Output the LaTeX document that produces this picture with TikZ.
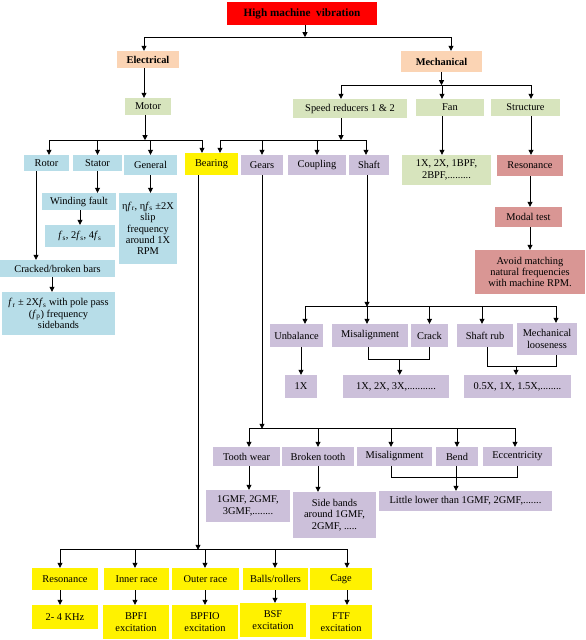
\documentclass[tikz,border=0pt]{standalone}
\usepackage{fontspec}
\setmainfont{Liberation Serif}
\usepackage{xcolor}
\usetikzlibrary{arrows.meta,positioning,calc}
\definecolor{peach}{HTML}{FBD4B4}
\definecolor{sage}{HTML}{D7E4BD}
\definecolor{skyblue}{HTML}{B7DDE8}
\definecolor{lilac}{HTML}{CCC0DA}
\definecolor{rosy}{HTML}{D99694}
\tikzset{
  box/.style={inner xsep=0.5pt, inner ysep=1pt, align=center, font=\fontsize{10.4}{11.4}\selectfont},
  peachbox/.style={box, fill=peach, font=\fontsize{10.4}{11.4}\selectfont\bfseries},
  sagebox/.style={box, fill=sage},
  skybox/.style={box, fill=skyblue},
  yelbox/.style={box, fill=yellow},
  lilacbox/.style={box, fill=lilac},
  rosebox/.style={box, fill=rosy},
  arr/.style={-{Triangle[length=5pt,width=5pt]}, line width=0.8pt},
  ln/.style={line width=0.8pt}
}
\newcommand{\fsub}[1]{\textit{f}\textsubscript{#1}}

\begin{document}
\begin{tikzpicture}[x=1pt,y=-1pt]
\useasboundingbox (0,0) rectangle (586,640);
\node[box, fill=red, font=\fontsize{11.2}{13}\selectfont\bfseries, minimum width=150, minimum height=23] (hmv) at (302,13.5) {High machine\ \ vibration};
\node[peachbox, minimum width=62, minimum height=17] (elec) at (148,59.5) {Electrical};
\node[peachbox, minimum width=81, minimum height=21] (mech) at (441.5,61.5) {Mechanical};
\node[sagebox, minimum width=46, minimum height=17] (motor) at (148,106.5) {Motor};
\node[sagebox, minimum width=114, minimum height=19] (spred) at (350,108.5) {Speed reducers 1 \& 2};
\node[sagebox, minimum width=68, minimum height=17] (fan) at (450,107.5) {Fan};
\node[sagebox, minimum width=69, minimum height=17] (struct) at (525.5,107.5) {Structure};
\node[skybox, minimum width=45, minimum height=16] (rotor) at (46.5,163) {Rotor};
\node[skybox, minimum width=49, minimum height=16] (stator) at (97.5,163) {Stator};
\node[skybox, minimum width=53, minimum height=20] (general) at (150.5,165) {General};
\node[yelbox, minimum width=53, minimum height=22] (bearing) at (211.5,164) {Bearing};
\node[lilacbox, minimum width=42, minimum height=20] (gears) at (262,165) {Gears};
\node[lilacbox, minimum width=58, minimum height=20] (coupling) at (317,165) {Coupling};
\node[lilacbox, minimum width=40, minimum height=20] (shaft) at (369,165) {Shaft};
\node[sagebox, minimum width=89, minimum height=30] (fanfreq) at (446.5,170) {1X, 2X, 1BPF,\\2BPF,.........};
\node[rosebox, minimum width=66, minimum height=21] (resn) at (530,165.5) {Resonance};
\node[rosebox, minimum width=67, minimum height=20] (modal) at (528.5,217) {Modal test};
\node[rosebox, minimum width=110, minimum height=44] (avoid) at (530,272) {Avoid matching\\natural frequencies\\with machine RPM.};
\node[skybox, minimum width=74, minimum height=17] (winding) at (79,201.5) {Winding fault};
\node[skybox, minimum width=70, minimum height=22] (wfreq) at (80,236) {\fsub{s}, 2\fsub{s}, 4\fsub{s}};
\node[skybox, minimum width=58, minimum height=71] (genfreq) at (148,228.5) {η\fsub{r}, η\fsub{s} ±2X\\slip\\frequency\\around 1X\\RPM};
\node[skybox, minimum width=115, minimum height=17] (cracked) at (57.5,268.5) {Cracked/broken bars};
\node[skybox, minimum width=113, minimum height=43] (barfreq) at (58.5,313.5) {\fsub{r} ± 2X\fsub{s} with pole pass\\(\fsub{p}) frequency\\sidebands};

\node[lilacbox, minimum width=53, minimum height=23] (unbal) at (296.5,335.5) {Unbalance};
\node[lilacbox, minimum width=76, minimum height=23] (misal) at (370,335.5) {Misalignment};
\node[lilacbox, minimum width=37, minimum height=23] (crack) at (429.5,335.5) {Crack};
\node[lilacbox, minimum width=56, minimum height=23] (rub) at (485,335.5) {Shaft rub};
\node[lilacbox, minimum width=60, minimum height=32] (loose) at (547,339) {Mechanical\\looseness};
\node[lilacbox, minimum width=32, minimum height=23] (unbfreq) at (301,386.5) {1X};
\node[lilacbox, minimum width=106, minimum height=23] (misfreq) at (396,386.5) {1X, 2X, 3X,...........};
\node[lilacbox, minimum width=107, minimum height=23] (rubfreq) at (517.5,386.5) {0.5X, 1X, 1.5X,........};

\node[lilacbox, minimum width=67, minimum height=19] (wear) at (246.5,456.5) {Tooth wear};
\node[lilacbox, minimum width=72, minimum height=19] (broken) at (318,456.5) {Broken tooth};
\node[lilacbox, minimum width=75, minimum height=19] (gmisal) at (394.5,456.5) {Misalignment};
\node[lilacbox, minimum width=42, minimum height=19] (bend) at (457,456.5) {Bend};
\node[lilacbox, minimum width=69, minimum height=19] (ecc) at (517.5,456.5) {Eccentricity};
\node[lilacbox, minimum width=84, minimum height=32] (wearfreq) at (248,506) {1GMF, 2GMF,\\3GMF,........};
\node[lilacbox, minimum width=83, minimum height=46] (brokfreq) at (334.5,515) {Side bands\\around 1GMF,\\2GMF, .....};
\node[lilacbox, minimum width=173, minimum height=20] (eccfreq) at (465.5,501) {Little lower than 1GMF, 2GMF,.......};

\node[yelbox, minimum width=66, minimum height=22] (bres) at (65,579) {Resonance};
\node[yelbox, minimum width=65, minimum height=22] (inner) at (136.5,579) {Inner race};
\node[yelbox, minimum width=67, minimum height=22] (outer) at (205.5,579) {Outer race};
\node[yelbox, minimum width=65, minimum height=22] (balls) at (275.5,579) {Balls/rollers};
\node[yelbox, minimum width=62, minimum height=22] (cage) at (341,579) {Cage};
\node[yelbox, minimum width=66, minimum height=24] (khz) at (65,617) {2- 4 KHz};
\node[yelbox, minimum width=66, minimum height=34] (bpfi) at (136,622) {BPFI\\excitation};
\node[yelbox, minimum width=66, minimum height=34] (bpfo) at (205,622) {BPFIO\\excitation};
\node[yelbox, minimum width=66, minimum height=34] (bsf) at (273,620) {BSF\\excitation};
\node[yelbox, minimum width=62, minimum height=34] (ftf) at (341,622) {FTF\\excitation};

\draw[arr] ([xshift=3pt]hmv.south) -- ++(0,12) coordinate (jtop);
\draw[arr] (jtop) -| ([xshift=-4pt]elec.north);
\draw[arr] (jtop) -| ([xshift=9.5pt]mech.north);
\draw[arr] ([xshift=-4pt]elec.south) -- ([xshift=-4pt]elec.south |- motor.north);

\draw[arr] ([xshift=-3pt]motor.south) -- ++(0,25) coordinate (jmot);
\draw[arr] (jmot) -| ([xshift=2.5pt]rotor.north);
\draw[arr] (jmot) -| (stator.north);
\draw[arr] (jmot) -| (general.north);
\draw[arr] (jmot) -| ([xshift=-9.5pt]bearing.north);

\draw[arr] (mech.south) -- ++(0,13) coordinate (jmech);
\draw[arr] (jmech) -| ([xshift=-9pt]spred.north);
\draw[arr] (jmech) -| ([xshift=-8pt]fan.north);
\draw[arr] (jmech) -| ([xshift=5.5pt]struct.north);

\draw[arr] ([xshift=-9pt]spred.south) -- ++(0,22) coordinate (jsr);
\draw[arr] (jsr) -| ([xshift=8.5pt]bearing.north);
\draw[arr] (jsr) -| (gears.north);
\draw[arr] (jsr) -| (coupling.north);
\draw[arr] (jsr) -| ([xshift=-3pt]shaft.north);

\draw[arr] ([xshift=-8pt]fan.south) -- ([xshift=-8pt]fan.south |- fanfreq.north);
\draw[arr] ([xshift=5.5pt]struct.south) -- ([xshift=5.5pt]struct.south |- resn.north);
\draw[arr] (resn.south) -- (resn.south |- modal.north);
\draw[arr] ([xshift=1.5pt]modal.south) -- ([xshift=1.5pt]modal.south |- avoid.north);

\draw[arr] (stator.south) -- (stator.south |- winding.north);
\draw[arr] ([xshift=1pt]winding.south) -- ([xshift=1pt]winding.south |- wfreq.north);
\draw[arr] (general.south) -- (general.south |- genfreq.north);
\draw[arr] ([xshift=-10.5pt]rotor.south) -- ([xshift=-10.5pt]rotor.south |- cracked.north);
\draw[arr] ([xshift=-5.5pt]cracked.south) -- ([xshift=-5.5pt]cracked.south |- barfreq.north);

\coordinate (jbear) at ($([xshift=-13.5pt]bearing.south |- bres.north)+(0,-18)$);
\draw[arr] ([xshift=-13.5pt]bearing.south) -- (jbear);
\draw[arr] (jbear) -| ([xshift=-5pt]bres.north);
\draw[arr] (jbear) -| ([xshift=-1.5pt]inner.north);
\draw[arr] (jbear) -| ([xshift=-0.5pt]outer.north);
\draw[arr] (jbear) -| ([xshift=-0.5pt]balls.north);
\draw[arr] (jbear) -| ([xshift=6pt]cage.north);
\draw[arr] ([xshift=-5pt]bres.south) -- ([xshift=-5pt]bres.south |- khz.north);
\draw[arr] ([xshift=-1.5pt]inner.south) -- ([xshift=-1.5pt]inner.south |- bpfi.north);
\draw[arr] ([xshift=-0.5pt]outer.south) -- ([xshift=-0.5pt]outer.south |- bpfo.north);
\draw[arr] ([xshift=-0.5pt]balls.south) -- ([xshift=-0.5pt]balls.south |- bsf.north);
\draw[arr] ([xshift=6pt]cage.south) -- ([xshift=6pt]cage.south |- ftf.north);

\coordinate (jgear) at ($(gears.south |- wear.north)+(0,-18)$);
\draw[arr] (gears.south) -- (jgear);
\draw[arr] (jgear) -| ([xshift=2.5pt]wear.north);
\draw[arr] (jgear) -| (broken.north);
\draw[arr] (jgear) -| ([xshift=-3.5pt]gmisal.north);
\draw[arr] (jgear) -| (bend.north);
\draw[arr] (jgear) -| ([xshift=-2.5pt]ecc.north);
\draw[arr] ([xshift=2.5pt]wear.south) -- ([xshift=2.5pt]wear.south |- wearfreq.north);
\draw[arr] (broken.south) -- (broken.south |- brokfreq.north);
\coordinate (jecc) at ($(gmisal.south)+(0,11)$);
\draw[ln] ([xshift=-3.5pt]gmisal.south) -- ([xshift=-3.5pt]jecc) -| ([xshift=-0.5pt]ecc.south);
\draw[arr] ([xshift=-1pt]bend.south) -- ([xshift=-1pt]bend.south |- eccfreq.north);

\coordinate (jshaft) at ($([xshift=-2pt]shaft.south |- misal.north)+(0,-17)$);
\draw[arr] ([xshift=-2pt]shaft.south) -- (jshaft);
\draw[arr] (jshaft) -| ([xshift=8.5pt]unbal.north);
\draw[arr] (jshaft) -| ([xshift=-3pt]misal.north);
\draw[arr] (jshaft) -| (crack.north);
\draw[arr] (jshaft) -| ([xshift=-3pt]rub.north);
\draw[arr] (jshaft) -| ([xshift=9pt]loose.north);
\draw[arr] ([xshift=4.5pt]unbal.south) -- ([xshift=4.5pt]unbal.south |- unbfreq.north);
\coordinate (jmis) at ($(misal.south)!0.5!(crack.south)+(0,12)$);
\draw[ln] ([xshift=-2pt]misal.south) |- (jmis) -| (crack.south);
\draw[arr] (jmis) -- (jmis |- misfreq.north);
\coordinate (jrub) at ($(rub.south)!0.5!(loose.south)+(0,15)$);
\draw[ln] ([xshift=2pt]rub.south) |- (jrub) -| ([xshift=9pt]loose.south);
\draw[arr] (jrub) -- (jrub |- rubfreq.north);
\end{tikzpicture}
\end{document}
